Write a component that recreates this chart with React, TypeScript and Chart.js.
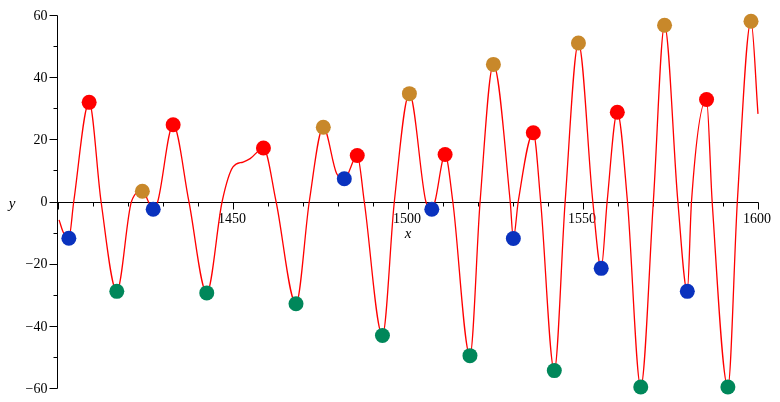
import React, { useEffect, useRef } from "react";
import { Chart, registerables } from "chart.js";
Chart.register(...registerables);

// Curve samples: extrema, zero crossings and shoulder points
const curveX = [
  1400.3, 1401.5, 1403.1, 1404.5, 1408.9, 1412.3, 1416.8, 1421.0, 1424.1, 1427.2,
  1428.5, 1432.9, 1437.4, 1442.5, 1446.9, 1450.0, 1452.9, 1454.9, 1458.7, 1462.3,
  1468.0, 1471.8, 1475.8, 1479.6, 1481.8, 1485.5, 1487.5, 1492.7, 1496.1, 1500.4,
  1505.1, 1506.8, 1507.7, 1510.6, 1512.8, 1517.7, 1520.6, 1524.4, 1529.2, 1530.1,
  1531.5, 1535.8, 1537.9, 1541.8, 1544.9, 1548.7, 1552.8, 1555.2, 1556.9, 1559.8,
  1562.7, 1566.5, 1570.1, 1573.3, 1577.1, 1579.8, 1581.0, 1585.3, 1586.9, 1591.4,
  1594.1, 1598.0, 1600.0,
];
const curveY = [
  -5.9, -9.9, -11.8, 0, 31.9, 0, -28.9, 0, 3.3, -2.5,
  0, 24.7, 0, -29.4, 0, 11.1, 12.7, 13.8, 17.2, 0,
  -32.9, 0, 23.9, 9.0, 7.3, 14.8, 0, -43.1, 0, 34.7,
  0, -2.5, 0, 15.1, 0, -49.6, 0, 44.1, 0, -11.9,
  0, 22.1, 0, -54.4, 0, 51.0, 0, -21.5, 0, 28.7,
  0, -59.7, 0, 56.7, 0, -28.9, 0, 32.8, 0, -59.7,
  0, 58.0, 28.2,
];

const redX = [1408.9, 1432.9, 1458.7, 1485.5, 1510.6, 1535.8, 1559.8, 1585.3];
const redY = [31.9, 24.7, 17.2, 14.8, 15.1, 22.1, 28.7, 32.8];
const goldX = [1424.1, 1475.8, 1500.4, 1524.4, 1548.7, 1573.3, 1598.0];
const goldY = [3.3, 23.9, 34.7, 44.1, 51.0, 56.7, 58.0];
const blueX = [1403.1, 1427.2, 1481.8, 1506.8, 1530.1, 1555.2, 1579.8];
const blueY = [-11.8, -2.5, 7.3, -2.5, -11.9, -21.5, -28.9];
const greenX = [1416.8, 1442.5, 1468.0, 1492.7, 1517.7, 1541.8, 1566.5, 1591.4];
const greenY = [-28.9, -29.4, -32.9, -43.1, -49.6, -54.4, -59.7, -59.7];

const xTickValues = [1450, 1500, 1550, 1600];
const xTickLabels = ["1450", "1500", "1550", "1600"];
const yTickValues = [-60, -40, -20, 0, 20, 40, 60];
const yTickLabels = ["\u221260", "\u221240", "\u221220", "0", "20", "40", "60"];

const X_MIN = 1400;
const X_MAX = 1600;
const Y_MIN = -60;
const Y_MAX = 60;

const pts = (xs: number[], ys: number[]) => xs.map((x, i) => ({ x, y: ys[i] }));

const axesPlugin = {
  id: "mapleAxes",
  beforeDatasetsDraw(chart: any) {
    const { ctx, scales } = chart;
    const xs = scales.x;
    const ys = scales.y;
    const ax = Math.round(xs.getPixelForValue(X_MIN)) - 0.5;
    const ay = Math.round(ys.getPixelForValue(0)) + 0.5;
    ctx.save();
    ctx.strokeStyle = "#000";
    ctx.lineWidth = 1;
    ctx.beginPath();
    // y axis
    ctx.moveTo(ax, Math.round(ys.getPixelForValue(Y_MAX)) + 0.5);
    ctx.lineTo(ax, Math.round(ys.getPixelForValue(Y_MIN)) + 0.5);
    // x axis
    ctx.moveTo(ax, ay);
    ctx.lineTo(Math.round(xs.getPixelForValue(X_MAX)) + 0.5, ay);
    // y ticks
    for (let v = Y_MIN; v <= Y_MAX; v += 10) {
      const py = Math.round(ys.getPixelForValue(v)) + 0.5;
      const len = v % 20 === 0 ? 8 : 4;
      ctx.moveTo(ax - len, py);
      ctx.lineTo(ax, py);
    }
    // x ticks
    for (let v = X_MIN; v <= X_MAX; v += 10) {
      const px = Math.round(xs.getPixelForValue(v)) + 0.5;
      const len = v % 50 === 0 ? 7 : 4;
      ctx.moveTo(px, ay);
      ctx.lineTo(px, ay + len);
    }
    ctx.stroke();

    ctx.fillStyle = "#000";
    ctx.font = "14px 'Liberation Serif', serif";
    ctx.textAlign = "right";
    ctx.textBaseline = "middle";
    yTickValues.forEach((v, i) => {
      ctx.fillText(yTickLabels[i], ax - 10, ys.getPixelForValue(v) + 1);
    });
    ctx.textAlign = "center";
    xTickValues.forEach((v, i) => {
      ctx.fillText(xTickLabels[i], xs.getPixelForValue(v) - 1, ay + 17);
    });
    ctx.font = "italic 15px 'Liberation Serif', serif";
    ctx.fillText("x", xs.getPixelForValue(1500), ay + 32);
    ctx.fillText("y", 12, ay + 2);
    ctx.restore();
  },
};

export default function App() {
  const ref = useRef<HTMLCanvasElement>(null);
  useEffect(() => {
    if (!ref.current) return;
    const marker = (data: any, color: string) => ({
      data,
      showLine: false,
      pointRadius: 7.5,
      pointHoverRadius: 7.5,
      pointBackgroundColor: color,
      pointBorderColor: color,
      pointBorderWidth: 0,
      clip: false as any,
    });
    const chart = new Chart(ref.current, {
      type: "scatter",
      data: {
        datasets: [
          marker(pts(redX, redY), "#ff0000"),
          marker(pts(goldX, goldY), "#c8882a"),
          marker(pts(blueX, blueY), "#0a32be"),
          marker(pts(greenX, greenY), "#00875a"),
          {
            data: pts(curveX, curveY),
            showLine: true,
            borderColor: "#ff0000",
            borderWidth: 1.3,
            pointRadius: 0,
            pointHoverRadius: 0,
            cubicInterpolationMode: "monotone",
            clip: false as any,
          } as any,
        ],
      },
      options: {
        responsive: false,
        animation: false,
        events: [],
        layout: { padding: { left: 58, right: 22, top: 15, bottom: 14 } },
        plugins: { legend: { display: false }, tooltip: { enabled: false } },
        scales: {
          x: { type: "linear", min: X_MIN, max: X_MAX, display: false },
          y: { type: "linear", min: Y_MIN, max: Y_MAX, display: false },
        },
      },
      plugins: [axesPlugin],
    });
    return () => chart.destroy();
  }, []);
  return (
    <div style={{ position: "absolute", left: 0, top: 0, width: 780, height: 402, background: "#fff" }}>
      <canvas ref={ref} width={780} height={402} style={{ display: "block" }} />
    </div>
  );
}
